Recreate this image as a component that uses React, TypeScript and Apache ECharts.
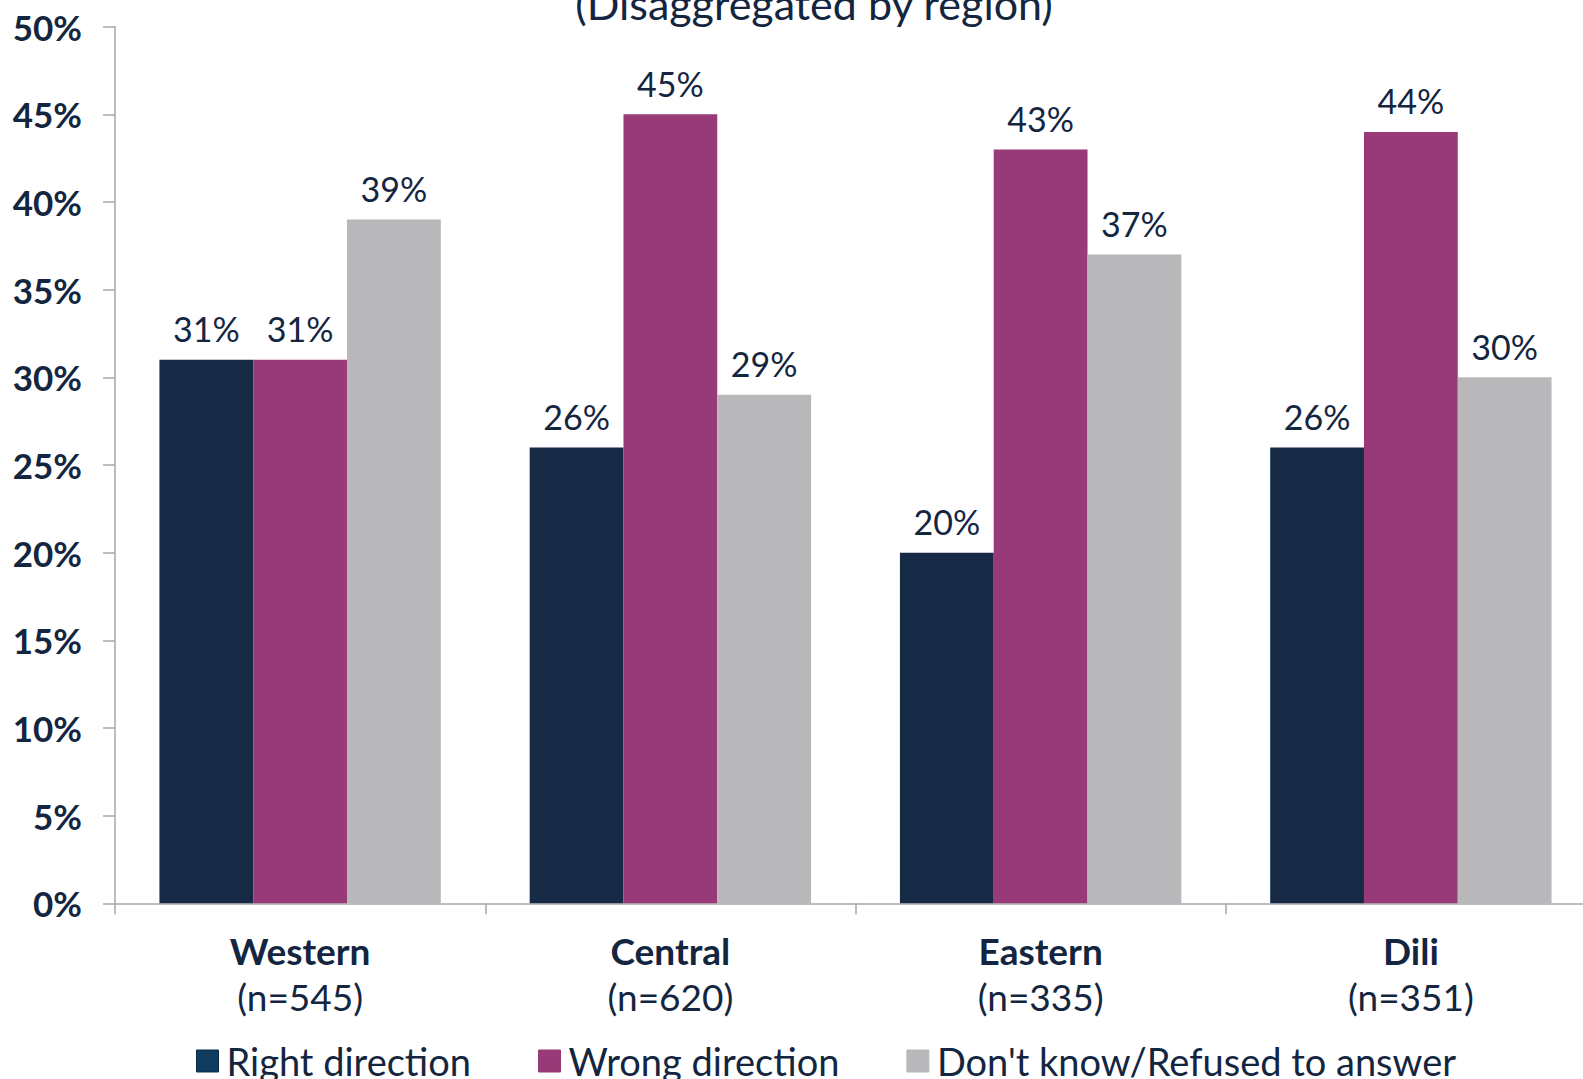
import React, { useEffect, useRef } from "react";
import * as echarts from "echarts";

const regions = ["Western", "Central", "Eastern", "Dili"];
const sampleSizes = ["n=545", "n=620", "n=335", "n=351"];
const seriesNames = ["Right direction", "Wrong direction", "Don't know/Refused to answer"];
const rightDirection = [31, 26, 20, 26];
const wrongDirection = [31, 45, 43, 44];
const dontKnow = [39, 29, 37, 30];
const yTicks = { min: 0, max: 50, interval: 5 };
const titleText = "(Disaggregated by region)";

const FONT = "Lato, 'Noto Sans', sans-serif";
const TEXT = "#14263f";
const AXIS = "#a7a7ad";
const barColors = ["#172a45", "#983a77", "#b8b8ba"];
const legendColors = ["#0e3d61", "#983a77", "#b8b8ba"];

export default function App() {
  const ref = useRef<HTMLDivElement>(null);
  useEffect(() => {
    if (!ref.current) return;
    const chart = echarts.init(ref.current, undefined, { renderer: "svg" });
    const values = [rightDirection, wrongDirection, dontKnow];
    chart.setOption({
      animation: false,
      textStyle: { fontFamily: FONT, color: TEXT },
      grid: { left: 115, top: 26.7, bottom: 175.7, width: 1481 },
      graphic: [
        {
          type: "text",
          x: 814,
          y: 3,
          style: {
            text: titleText,
            font: `normal 43px ${FONT}`,
            fill: TEXT,
            align: "center",
            verticalAlign: "middle",
          },
        },
      ],
      legend: {
        left: 196,
        top: 1042,
        padding: 0,
        itemWidth: 22,
        itemHeight: 22,
        itemGap: 67,
        icon: "rect",
        textStyle: { fontFamily: FONT, fontSize: 38, color: TEXT, padding: [0, 0, 0, 3] },
        data: seriesNames.map((n, i) => ({
          name: n,
          itemStyle: {
            color: legendColors[i],
            borderColor: i === 0 ? "#0a2a44" : legendColors[i],
            borderWidth: 1,
          },
        })),
      },
      xAxis: {
        type: "category",
        data: regions,
        axisLine: { show: true, lineStyle: { color: AXIS, width: 1.5 } },
        axisTick: { show: true, length: 11, lineStyle: { color: AXIS, width: 1.5 } },
        axisLabel: {
          margin: 24,
          formatter: (v: string) => {
            const i = regions.indexOf(v);
            return `{b|${v}}\n{n|(${sampleSizes[i]})}`;
          },
          rich: {
            b: { fontFamily: FONT, fontSize: 37, fontWeight: "bold", color: TEXT, lineHeight: 46 },
            n: { fontFamily: FONT, fontSize: 37, color: TEXT, lineHeight: 46 },
          },
        },
      },
      yAxis: {
        type: "value",
        min: yTicks.min,
        max: yTicks.max,
        interval: yTicks.interval,
        splitLine: { show: false },
        axisLine: { show: true, lineStyle: { color: AXIS, width: 1.5 } },
        axisTick: { show: true, length: 12, lineStyle: { color: AXIS, width: 1.5 } },
        axisLabel: {
          margin: 33,
          formatter: "{value}%",
          fontFamily: FONT,
          fontSize: 35,
          fontWeight: "bold",
          color: TEXT,
        },
      },
      series: seriesNames.map((n, i) => ({
        name: n,
        type: "bar",
        data: values[i],
        barGap: "0%",
        barCategoryGap: "24%",
        itemStyle: { color: barColors[i] },
        label: {
          show: true,
          position: "top",
          distance: 14,
          formatter: "{c}%",
          fontFamily: FONT,
          fontSize: 34,
          color: TEXT,
        },
      })),
    });
    return () => chart.dispose();
  }, []);
  return (
    <div style={{ position: "fixed", left: 0, top: 0, width: 1583, height: 1079, overflow: "hidden", background: "#fff" }}>
      <div ref={ref} style={{ width: 1600, height: 1079 }} />
    </div>
  );
}
